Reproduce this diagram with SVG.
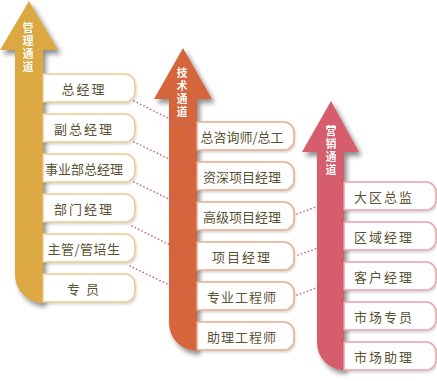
<svg xmlns="http://www.w3.org/2000/svg" width="437" height="381" viewBox="0 0 437 381">
<defs>
<filter id="sh" x="-30%" y="-10%" width="160%" height="130%">
<feGaussianBlur in="SourceAlpha" stdDeviation="2.5"/>
<feOffset dx="3" dy="4" result="b"/>
<feComponentTransfer><feFuncA type="linear" slope="0.45"/></feComponentTransfer>
<feMerge><feMergeNode/><feMergeNode in="SourceGraphic"/></feMerge>
</filter>
<filter id="bsh" x="-10%" y="-20%" width="120%" height="150%">
<feGaussianBlur in="SourceAlpha" stdDeviation="1"/>
<feOffset dx="1" dy="1.5"/>
<feComponentTransfer><feFuncA type="linear" slope="0.15"/></feComponentTransfer>
<feMerge><feMergeNode/><feMergeNode in="SourceGraphic"/></feMerge>
</filter>
</defs>
<style>
.vt{font-family:"Noto Sans CJK SC","Noto Sans",sans-serif;font-size:11px;font-weight:bold;fill:#fff;writing-mode:tb;letter-spacing:2px}
.lb{font-family:"Noto Sans CJK SC","Noto Sans",sans-serif;font-size:13px;fill:#5a5233;text-anchor:middle;dominant-baseline:central}
.bx{fill:#fff;stroke-width:1.5;filter:url(#bsh)}
.g .bx{stroke:#ecc98c}
.o .bx{stroke:#e9a98a}
.p .bx{stroke:#e8a1ac}
.cn{fill:none;stroke:#c65a7c;stroke-width:1.6;stroke-dasharray:0.1 3.6;stroke-linecap:round}
</style>

<g id="arrow-mgmt" filter="url(#sh)">
<path d="M29,1 L58,50 L43,50 L43,303 A28,28 0 0 1 15,275 L15,50 L0,50 Z" fill="#dca843"/>
<text class="vt" x="28" y="22">管理通道</text>
</g>
<g id="arrow-tech" filter="url(#sh)">
<path d="M183,48 L212,99 L197,99 L197,351 A28,28 0 0 1 169,323 L169,99 L154,99 Z" fill="#d5663b"/>
<text class="vt" x="182" y="67">技术通道</text>
</g>
<g id="arrow-sales" filter="url(#sh)">
<path d="M331,101 L359,152 L344,152 L344,370 A27,27 0 0 1 317,343 L317,152 L302,152 Z" fill="#d55d6c"/>
<text class="vt" x="331" y="125">营销通道</text>
</g>

<g id="connectors">
<line class="cn" x1="134" y1="101" x2="196" y2="132"/>
<line class="cn" x1="134" y1="142" x2="196" y2="172"/>
<line class="cn" x1="134" y1="182" x2="195" y2="212"/>
<line class="cn" x1="132" y1="226" x2="194" y2="257"/>
<line class="cn" x1="130" y1="266" x2="194" y2="297"/>
<line class="cn" x1="297" y1="214" x2="343" y2="197"/>
<line class="cn" x1="298" y1="255" x2="343" y2="239"/>
<line class="cn" x1="297" y1="295" x2="343" y2="278"/>
</g>

<g class="g">
<g id="n-zongjingli"><path class="bx" d="M43,74 H125 A10,10 0 0 1 135,84 V92 A10,10 0 0 1 125,102 H43 Z"/><text class="lb" x="84" y="88" letter-spacing="2">总经理</text></g>
<g id="n-fuzongjingli"><path class="bx" d="M43,114 H125 A10,10 0 0 1 135,124 V132 A10,10 0 0 1 125,142 H43 Z"/><text class="lb" x="84" y="128" letter-spacing="2">副总经理</text></g>
<g id="n-shiyebu"><path class="bx" d="M43,154 H125 A10,10 0 0 1 135,164 V172 A10,10 0 0 1 125,182 H43 Z"/><text class="lb" x="84" y="168">事业部总经理</text></g>
<g id="n-bumen"><path class="bx" d="M43,194 H125 A10,10 0 0 1 135,204 V212 A10,10 0 0 1 125,222 H43 Z"/><text class="lb" x="84" y="208" letter-spacing="2">部门经理</text></g>
<g id="n-zhuguan"><path class="bx" d="M43,234 H125 A10,10 0 0 1 135,244 V252 A10,10 0 0 1 125,262 H43 Z"/><text class="lb" x="84" y="248" letter-spacing="0.5">主管/管培生</text></g>
<g id="n-zhuanyuan"><path class="bx" d="M43,274 H125 A10,10 0 0 1 135,284 V292 A10,10 0 0 1 125,302 H43 Z"/><text class="lb" x="86" y="288" letter-spacing="6">专员</text></g>
</g>

<g class="o">
<g id="n-zongzixunshi"><path class="bx" d="M197,122 H284 A10,10 0 0 1 294,132 V140 A10,10 0 0 1 284,150 H197 Z"/><text class="lb" x="242" y="136">总咨询师/总工</text></g>
<g id="n-zishen"><path class="bx" d="M197,162 H284 A10,10 0 0 1 294,172 V180 A10,10 0 0 1 284,190 H197 Z"/><text class="lb" x="242" y="176">资深项目经理</text></g>
<g id="n-gaoji"><path class="bx" d="M197,202 H284 A10,10 0 0 1 294,212 V220 A10,10 0 0 1 284,230 H197 Z"/><text class="lb" x="242" y="216">高级项目经理</text></g>
<g id="n-xiangmu"><path class="bx" d="M197,242 H284 A10,10 0 0 1 294,252 V260 A10,10 0 0 1 284,270 H197 Z"/><text class="lb" x="242" y="256" letter-spacing="2">项目经理</text></g>
<g id="n-zhuanye"><path class="bx" d="M197,282 H284 A10,10 0 0 1 294,292 V300 A10,10 0 0 1 284,310 H197 Z"/><text class="lb" x="242" y="296" letter-spacing="1">专业工程师</text></g>
<g id="n-zhuli"><path class="bx" d="M197,322 H284 A10,10 0 0 1 294,332 V340 A10,10 0 0 1 284,350 H197 Z"/><text class="lb" x="242" y="336" letter-spacing="1">助理工程师</text></g>
</g>

<g class="p">
<g id="n-daqu"><path class="bx" d="M344,182 H426 A10,10 0 0 1 436,192 V200 A10,10 0 0 1 426,210 H344 Z"/><text class="lb" x="384" y="196" letter-spacing="2">大区总监</text></g>
<g id="n-quyu"><path class="bx" d="M344,222 H426 A10,10 0 0 1 436,232 V240 A10,10 0 0 1 426,250 H344 Z"/><text class="lb" x="384" y="236" letter-spacing="2">区域经理</text></g>
<g id="n-kehu"><path class="bx" d="M344,262 H426 A10,10 0 0 1 436,272 V280 A10,10 0 0 1 426,290 H344 Z"/><text class="lb" x="384" y="276" letter-spacing="2">客户经理</text></g>
<g id="n-shichangzy"><path class="bx" d="M344,302 H426 A10,10 0 0 1 436,312 V320 A10,10 0 0 1 426,330 H344 Z"/><text class="lb" x="384" y="316" letter-spacing="2">市场专员</text></g>
<g id="n-shichangzl"><path class="bx" d="M344,342 H426 A10,10 0 0 1 436,352 V360 A10,10 0 0 1 426,370 H344 Z"/><text class="lb" x="384" y="356" letter-spacing="2">市场助理</text></g>
</g>
</svg>
